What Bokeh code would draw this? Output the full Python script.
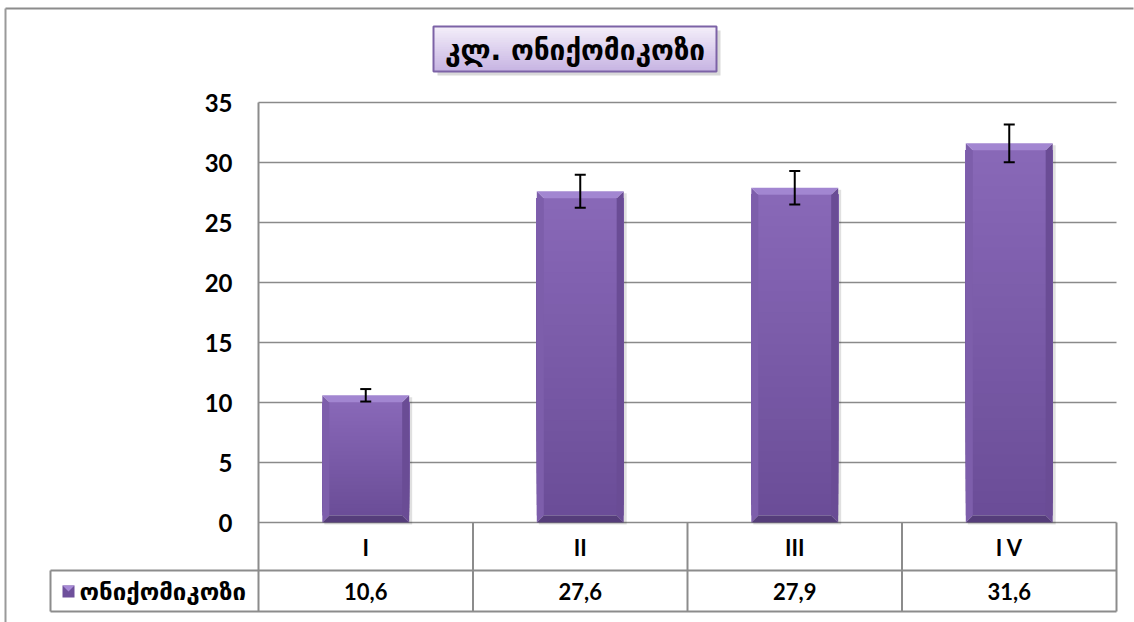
from bokeh.plotting import figure
from bokeh.models import Range1d, ColumnDataSource, Whisker, TeeHead
from bokeh.core.properties import value
from bokeh.embed import file_html
from bokeh.resources import INLINE

# ---- data ----
categories = ["I", "II", "III", "I V"]
values = [10.6, 27.6, 27.9, 31.6]
value_labels = ["10,6", "27,6", "27,9", "31,6"]
errors = [0.52, 1.37, 1.40, 1.57]
y_ticks = [0, 5, 10, 15, 20, 25, 30, 35]
series_name = "ონიქომიკოზი"
title_text = "კლ. ონიქომიკოზი"

# ---- geometry (pixel <-> data) ----
W, H = 1134, 622
OX, OY = 258, 522     # pixel position of data origin
PX_X = 214.5          # px per category
PX_Y = 12.0           # px per unit
x0r = -OX / PX_X
x1r = (W - OX) / PX_X
y0r = -(H - OY) / PX_Y
y1r = OY / PX_Y

def dx(px):
    return px / PX_X

def dy(px):
    return px / PX_Y

def sx(px):   # absolute pixel x -> data x
    return (px - OX) / PX_X

def sy(py):   # absolute pixel y -> data y
    return (OY - py) / PX_Y

GRID = "#8a8a8a"
NUMFONT = value("Lato")
GEOFONT = value("DejaVu Sans")

p = figure(width=W, height=H, x_range=Range1d(x0r, x1r), y_range=Range1d(y0r, y1r),
           x_axis_location=None, y_axis_location=None, toolbar_location=None,
           output_backend="svg", min_border=0, outline_line_color=None,
           background_fill_color="white", border_fill_color="white")
p.grid.visible = False

n = len(categories)
centers = [i + 0.5 for i in range(n)]

# outer chart border (top and left)
p.segment(x0=[sx(5)], y0=[sy(8)], x1=[sx(1133)], y1=[sy(8)],
          line_color="#8c8c8c", line_width=2)
p.segment(x0=[sx(5)], y0=[sy(8)], x1=[sx(5)], y1=[y0r],
          line_color="#9a9a9a", line_width=2)

# horizontal grid lines
p.segment(x0=[0] * len(y_ticks), y0=y_ticks, x1=[n] * len(y_ticks), y1=y_ticks,
          line_color=GRID, line_width=1.6)

# y tick labels
p.text(x=[sx(232)] * len(y_ticks), y=y_ticks, text=[str(t) for t in y_ticks],
       text_font=NUMFONT, text_font_style="bold", text_font_size="24px",
       text_align="right", text_baseline="middle", text_color="black")

# ---- bars ----
bw = 0.405
bx = dx(7)
by = dy(7)

# shadow
p.quad(left=[c - bw / 2 + dx(2) for c in centers], right=[c + bw / 2 + dx(3) for c in centers],
       bottom=[-dy(2)] * n, top=[v - dy(2) for v in values],
       fill_color="black", fill_alpha=0.12, line_color=None)

def lerp_color(c1, c2, t):
    a = [int(c1[i:i + 2], 16) for i in (1, 3, 5)]
    b = [int(c2[i:i + 2], 16) for i in (1, 3, 5)]
    return "#%02x%02x%02x" % tuple(round(a[k] + (b[k] - a[k]) * t) for k in range(3))

NB = 30
face_top, face_bot = "#8868b8", "#6b4d97"
for c, v in zip(centers, values):
    lo, hi = by, v - by
    step = (hi - lo) / NB
    # each band runs to the top; later (higher) bands paint over -> no seams
    p.quad(left=[c - bw / 2] * NB, right=[c + bw / 2] * NB,
           bottom=[lo + k * step for k in range(NB)],
           top=[hi] * NB,
           fill_color=[lerp_color(face_bot, face_top, (k + 0.5) / NB) for k in range(NB)],
           line_color=None)

# bevels
tops_x, tops_y, bots_x, bots_y, lefts_x, lefts_y, rights_x, rights_y = [], [], [], [], [], [], [], []
for c, v in zip(centers, values):
    l, r = c - bw / 2, c + bw / 2
    tops_x.append([l, r, r - bx, l + bx]); tops_y.append([v, v, v - by, v - by])
    bots_x.append([l, r, r - bx, l + bx]); bots_y.append([0, 0, by, by])
    lefts_x.append([l, l, l + bx, l + bx]); lefts_y.append([0, v, v - by, by])
    rights_x.append([r, r, r - bx, r - bx]); rights_y.append([0, v, v - by, by])
p.patches(lefts_x, lefts_y, fill_color="#7d5eab", line_color=None)
p.patches(rights_x, rights_y, fill_color="#6a4c95", line_color=None)
p.patches(tops_x, tops_y, fill_color="#a286d1", line_color=None)
p.patches(bots_x, bots_y, fill_color="#553d7a", line_color=None)

# error bars
src = ColumnDataSource(dict(x=centers,
                            upper=[v + e for v, e in zip(values, errors)],
                            lower=[v - e for v, e in zip(values, errors)]))
wh = Whisker(base="x", upper="upper", lower="lower", source=src, dimension="height",
             line_color="black", line_width=2, level="overlay",
             upper_head=TeeHead(size=11, line_color="black", line_width=2),
             lower_head=TeeHead(size=11, line_color="black", line_width=2))
p.add_layout(wh)

# ---- data table ----
TL = "#8c8c8c"
leg_left = sx(50)
row1_bot = sy(570)
row2_bot = sy(611)
p.segment(x0=[leg_left, leg_left], y0=[row1_bot, row2_bot], x1=[n, n], y1=[row1_bot, row2_bot],
          line_color=TL, line_width=2)
p.segment(x0=[0], y0=[y_ticks[-1]], x1=[0], y1=[row2_bot], line_color=TL, line_width=2)
p.segment(x0=[leg_left], y0=[row1_bot], x1=[leg_left], y1=[row2_bot], line_color=TL, line_width=2)
p.segment(x0=list(range(1, n + 1)), y0=[0] * n, x1=list(range(1, n + 1)), y1=[row2_bot] * n,
          line_color=TL, line_width=2)

# category labels
p.text(x=centers, y=[sy(547)] * n, text=categories, text_font=NUMFONT, text_font_style="bold",
       text_font_size="22px", text_align="center", text_baseline="middle", text_color="black")
# value labels
p.text(x=centers, y=[sy(591)] * n, text=value_labels, text_font=NUMFONT, text_font_style="bold",
       text_font_size="22px", text_align="center", text_baseline="middle", text_color="black")

# legend key
kx0, kx1 = sx(62), sx(74)
ky0, ky1 = sy(597), sy(585)
p.quad(left=[kx0], right=[kx1], bottom=[ky0], top=[ky1], fill_color="#6e509b", line_color=None)
p.patches([[kx0, kx1, (kx0 + kx1) / 2]], [[ky1, ky1, (ky0 + ky1) / 2]],
          fill_color="#a78ad6", line_color=None)
p.text(x=[sx(79)], y=[sy(591)], text=[series_name], text_font=GEOFONT,
       text_font_style="bold", text_font_size="24px", text_align="left",
       text_baseline="middle", text_color="black")

# ---- title box ----
tl, tr = sx(433), sx(716)
tt, tb = sy(26), sy(71)
p.quad(left=[tl + dx(4)], right=[tr + dx(4)], bottom=[tb - dy(4)], top=[tt - dy(4)],
       fill_color="black", fill_alpha=0.15, line_color=None)
NT = 20
tstep = (tt - tb) / NT
p.quad(left=[tl] * NT, right=[tr] * NT,
       bottom=[tb + k * tstep for k in range(NT)],
       top=[tt] * NT,
       fill_color=[lerp_color("#c6b3e2", "#f4effa", (k + 0.5) / NT) for k in range(NT)],
       line_color=None)
p.quad(left=[tl], right=[tr], bottom=[tb], top=[tt], fill_color=None,
       line_color="#7c62a6", line_width=2)
p.text(x=[(tl + tr) / 2], y=[sy(50)], text=[title_text], text_font=GEOFONT,
       text_font_style="bold", text_font_size="28px", text_align="center",
       text_baseline="middle", text_color="black")

open("out.html", "w").write(file_html(p, INLINE))
